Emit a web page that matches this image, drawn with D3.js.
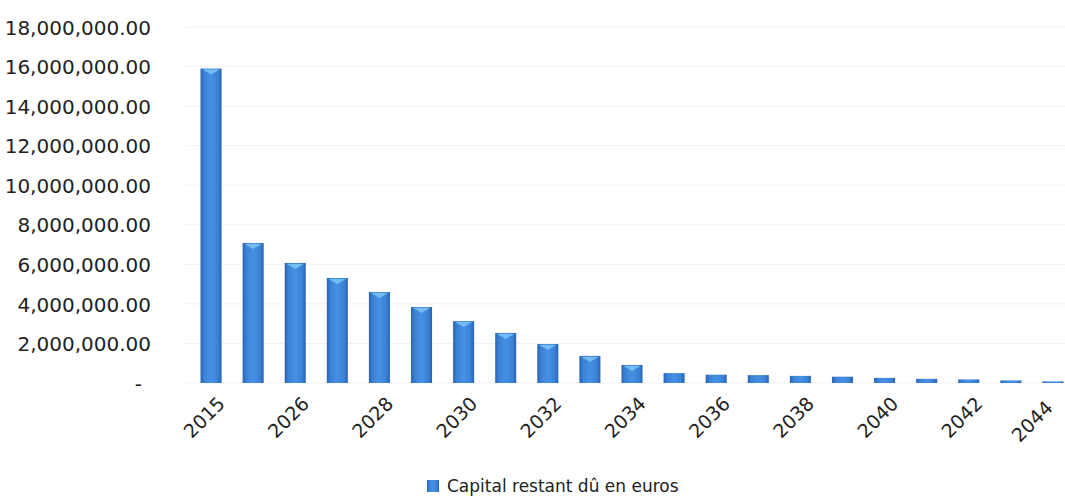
<!DOCTYPE html>
<html>
<head>
<meta charset="utf-8">
<script src="https://cdn.jsdelivr.net/npm/d3@7"></script>
<style>
  html, body { margin: 0; padding: 0; background: #fff; }
  svg { display: block; }
  text { font-family: "DejaVu Sans", sans-serif; fill: #222; }
</style>
</head>
<body>
<svg id="chart" width="1065" height="497"></svg>
<script>
// Remaining principal owed, per year
const years = ["2015", "2025", "2026", "2027", "2028", "2029", "2030", "2031", "2032", "2033",
               "2034", "2035", "2036", "2037", "2038", "2039", "2040", "2041", "2042", "2043", "2044"];
const capital = [15900000, 7080000, 6070000, 5310000, 4600000, 3840000, 3130000, 2530000, 1970000, 1370000,
                 910000, 500000, 420000, 400000, 360000, 320000, 260000, 210000, 180000, 130000, 80000];
const yTicks = [0, 2000000, 4000000, 6000000, 8000000, 10000000, 12000000, 14000000, 16000000, 18000000];
const xTickLabels = years.filter((d, i) => i % 2 === 0);
const seriesName = "Capital restant dû en euros";

const svg = d3.select("#chart");

const x = d3.scaleBand().domain(years).range([190, 1074]).paddingInner(0.5).paddingOuter(0.25);
const y = d3.scaleLinear().domain([0, 18000000]).range([383, 27]);

// Cylinder-like shading for the bars
const defs = svg.append("defs");
const grad = defs.append("linearGradient").attr("id", "barGrad").attr("x1", "0").attr("x2", "1").attr("y1", "0").attr("y2", "0");
grad.append("stop").attr("offset", "0%").attr("stop-color", "#2b63b0");
grad.append("stop").attr("offset", "18%").attr("stop-color", "#3a82d6");
grad.append("stop").attr("offset", "50%").attr("stop-color", "#4790e2");
grad.append("stop").attr("offset", "82%").attr("stop-color", "#3a82d6");
grad.append("stop").attr("offset", "100%").attr("stop-color", "#2b63b0");

// Gridlines
svg.append("g")
  .selectAll("line")
  .data(yTicks)
  .join("line")
  .attr("x1", 185).attr("x2", 1065)
  .attr("y1", d => y(d)).attr("y2", d => y(d))
  .attr("stroke", "#f2f2f2")
  .attr("stroke-width", 1);

// Y axis labels
const fmt = d3.format(",.2f");
const yAxis = d3.axisLeft(y).tickValues(yTicks).tickSize(0).tickPadding(0)
  .tickFormat(d => d === 0 ? "-" : fmt(d));
const yG = svg.append("g").attr("transform", "translate(151,0)").call(yAxis);
yG.select(".domain").remove();
yG.selectAll("text")
  .style("font-size", "20px")
  .style("font-family", "'DejaVu Sans', sans-serif")
  .attr("fill", "#222")
  .attr("dy", "0.36em")
  .attr("x", d => d === 0 ? -9 : 0);

// Bars
const bars = svg.append("g");
bars.selectAll("rect.bar")
  .data(years.map((d, i) => ({ year: d, value: capital[i] })))
  .join("rect")
  .attr("class", "bar")
  .attr("x", d => x(d.year))
  .attr("width", x.bandwidth())
  .attr("y", d => y(d.value))
  .attr("height", d => y(0) - y(d.value))
  .attr("fill", "url(#barGrad)");

// Lighter cap at the top of each bar
bars.selectAll("path.cap")
  .data(years.map((d, i) => ({ year: d, value: capital[i] })).filter(d => y(0) - y(d.value) > 12))
  .join("path")
  .attr("class", "cap")
  .attr("d", d => {
    const x0 = x(d.year), w = x.bandwidth(), t = y(d.value);
    return `M${x0 + 2},${t + 1} L${x0 + w - 2},${t + 1} L${x0 + w / 2},${t + 6} Z`;
  })
  .attr("fill", "#7cc4f4")
  .attr("opacity", 0.85);

// X axis labels, every second year (the last one nudged in so it stays inside the frame)
const lastYear = years[years.length - 1];
const xAxis = d3.axisBottom(x).tickValues(xTickLabels).tickSize(0).tickPadding(0);
const xG = svg.append("g").attr("transform", `translate(0,${y(0)})`).call(xAxis);
xG.select(".domain").remove();
xG.selectAll("text")
  .style("font-size", "19px")
  .style("font-family", "'DejaVu Sans', sans-serif")
  .attr("fill", "#222")
  .attr("text-anchor", "end")
  .attr("dy", "0")
  .attr("y", 0)
  .attr("transform", d => d === lastYear ? "translate(1,26) rotate(-45)" : "translate(15,22) rotate(-45)");

// Legend
const legend = svg.append("g").attr("transform", "translate(427,480)");
legend.append("rect").attr("x", 0).attr("y", 0).attr("width", 12).attr("height", 12).attr("fill", "url(#barGrad)");
legend.append("text")
  .attr("x", 20).attr("y", 12)
  .style("font-size", "17px")
  .text(seriesName);
</script>
</body>
</html>
